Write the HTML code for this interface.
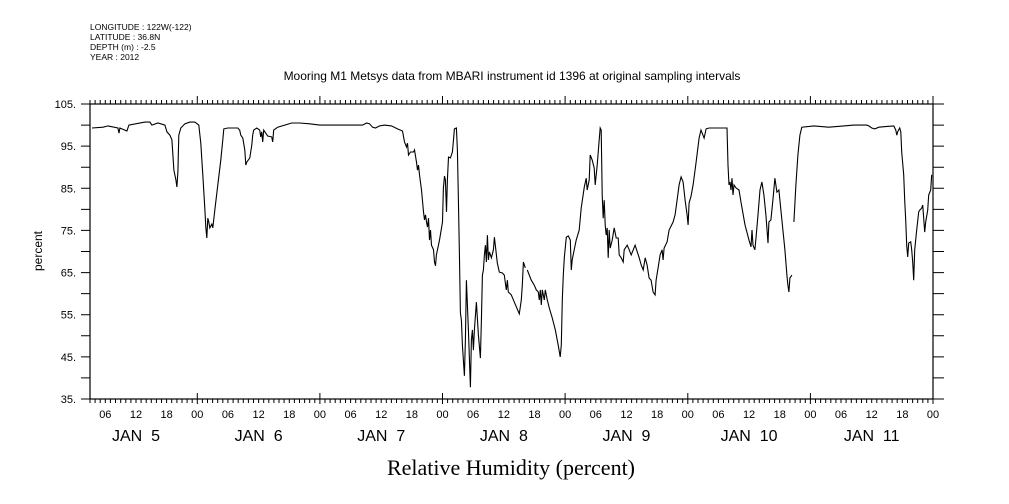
<!DOCTYPE html>
<html><head><meta charset="utf-8"><style>
body{margin:0;background:#fff;}
svg{display:block;font-family:"Liberation Sans",sans-serif;}
</style></head><body>
<svg id="chart" width="1009" height="504" viewBox="0 0 1009 504">
<g font-size="8.5" fill="#000">
<text x="90" y="30">LONGITUDE : 122W(-122)</text>
<text x="90" y="40">LATITUDE : 36.8N</text>
<text x="90" y="50">DEPTH (m) : -2.5</text>
<text x="90" y="60">YEAR : 2012</text>
</g>
<text x="512" y="80" font-size="12" text-anchor="middle">Mooring M1 Metsys data from MBARI instrument id 1396 at original sampling intervals</text>
<text x="511" y="475" font-size="22" text-anchor="middle" font-family="Liberation Serif, serif">Relative Humidity (percent)</text>
<text transform="translate(42,251) rotate(-90)" font-size="12" text-anchor="middle">percent</text>
<g id="axes"></g>
<g id="series"></g>
</svg>
<script>
const yTicks=[105,95,85,75,65,55,45,35];
const dayLabels=["JAN  5","JAN  6","JAN  7","JAN  8","JAN  9","JAN  10","JAN  11"];
const hourLabels=["06","12","18","00"];
// times: hours since axis day-0 00:00; null value = gap
const times=[3.39,5.54,6.52,8.47,8.67,8.86,10.23,10.62,13.75,14.73,15.12,16.29,17.66,18.05,18.63,19.03,19.42,19.81,20.0,20.2,20.39,20.78,21.57,22.54,23.52,24.3,24.69,25.08,25.47,25.67,25.86,26.06,26.26,26.45,26.84,27.04,27.43,28.01,28.6,28.99,29.19,29.97,31.92,32.31,32.51,32.9,33.29,33.49,33.68,34.27,34.66,34.85,35.05,35.64,36.22,36.42,36.61,36.81,37.0,37.79,38.57,38.76,38.96,39.74,41.11,42.48,44.04,45.99,47.95,49.9,52.83,56.35,57.13,57.72,58.3,58.89,59.67,60.65,62.02,63.19,64.17,64.56,64.95,65.14,65.34,65.73,66.32,66.51,66.9,67.1,67.29,67.49,67.88,68.27,68.47,68.66,68.86,69.05,69.25,69.45,69.64,69.84,70.23,70.42,70.62,70.81,71.4,71.99,72.18,72.38,72.57,72.77,72.96,73.16,73.55,73.94,74.14,74.33,74.72,74.92,75.11,75.31,75.5,75.7,75.89,76.28,76.48,76.67,76.87,77.06,77.45,77.65,77.85,78.04,78.24,78.63,79.02,79.41,79.61,79.8,80.0,80.19,80.39,80.58,80.78,80.97,81.17,81.56,81.95,82.15,82.73,83.12,83.71,84.1,84.49,84.69,84.88,85.47,86.45,87.03,87.42,87.62,87.82,88.21,88.4,88.6,89.38,89.96,90.35,90.74,90.94,91.13,91.33,91.53,91.92,92.11,92.5,92.89,93.48,94.07,94.65,95.04,95.24,95.44,95.63,95.83,96.22,96.61,97.0,97.2,97.39,97.78,98.17,98.76,99.15,99.74,100.13,100.32,100.71,100.91,101.3,101.69,101.89,102.28,102.67,102.86,103.06,103.25,103.45,103.65,103.84,104.04,104.23,104.43,104.62,104.82,105.21,105.6,105.99,106.38,106.58,106.97,107.36,107.56,108.14,108.53,108.92,109.7,110.49,110.88,111.27,111.66,112.05,112.44,112.83,113.22,113.61,113.81,114.2,114.59,114.98,115.18,115.37,115.96,116.35,117.13,117.52,117.91,118.3,118.69,119.08,119.48,119.87,120.06,120.26,120.65,121.04,121.63,122.21,122.6,123.19,123.58,124.17,126.12,127.68,127.88,128.07,128.27,128.46,128.66,128.86,129.05,129.44,130.03,130.42,131.2,131.98,132.37,132.57,132.76,133.15,133.35,133.74,134.13,134.52,134.91,135.3,135.7,135.89,136.28,136.67,137.06,137.45,137.84,138.23,138.62,139.01,139.4,139.6,139.8,139.99,140.38,140.58,140.77,141.16,141.55,141.94,142.33,144.68,147.61,150.55,152.5,155.04,155.43,156.02,156.61,157.39,160.32,160.71,160.91,161.1,161.49,161.69,161.88,162.27,162.47,162.66,162.86,163.05,163.25,163.64,163.84,164.03,164.23,164.42,164.81,165.2,165.4,165.79,165.98,166.18,166.38,166.57,166.96,167.16,167.55,167.74];
const humidity=[99.3,99.5,99.8,99.3,98.1,99.3,98.6,100.0,100.7,100.7,100.0,100.5,100.0,98.4,97.6,96.5,89.3,87.0,85.3,88.9,97.6,99.3,100.3,100.7,100.7,100.0,95.7,88.2,80.3,75.8,73.2,77.9,77.0,75.6,76.5,75.6,79.8,85.8,91.7,96.5,99.1,99.3,99.3,98.8,97.6,96.9,94.1,90.5,91.2,92.2,95.3,97.6,98.8,99.3,98.8,97.2,98.4,96.0,98.8,97.4,97.2,96.0,98.8,99.5,100.0,100.5,100.5,100.3,100.0,100.0,100.0,100.0,100.5,100.3,99.5,99.3,99.8,100.0,99.8,99.1,98.6,96.0,94.8,95.7,92.9,93.6,93.6,94.1,91.2,89.3,90.5,88.2,84.6,79.4,77.5,78.7,77.0,75.8,77.9,72.7,75.1,71.5,70.4,67.5,66.6,69.2,72.7,77.0,85.1,87.9,87.0,79.4,87.0,92.4,92.2,93.6,96.5,99.1,99.3,94.1,82.2,69.6,55.4,53.7,47.8,40.5,49.0,63.2,57.3,51.4,37.8,49.0,51.4,46.6,51.4,58.0,50.2,44.7,53.7,64.4,65.6,69.2,71.5,67.5,73.9,68.0,69.9,68.5,70.4,73.4,67.3,65.1,64.9,64.4,60.9,63.2,60.4,59.7,56.8,55.2,58.5,62.0,67.5,66.1,null,65.6,63.2,62.0,60.9,60.4,58.5,60.9,57.3,60.9,58.5,60.9,58.5,56.6,54.2,51.4,47.8,45.0,47.8,58.5,64.4,68.5,73.4,73.7,72.7,65.6,68.0,70.4,72.7,75.1,80.3,85.3,87.4,84.6,87.0,92.9,91.7,89.8,85.8,90.5,96.5,99.3,98.8,83.4,77.9,82.2,76.3,73.9,75.6,68.5,75.1,70.8,72.7,75.6,73.2,73.2,69.2,68.5,67.5,70.4,71.5,70.4,69.2,71.5,68.5,66.8,65.6,68.5,66.8,63.7,63.2,60.4,59.7,63.2,66.1,69.2,70.4,68.0,70.8,72.3,75.1,77.0,78.7,82.2,85.8,87.7,86.5,82.2,78.7,76.3,81.5,83.2,85.8,91.2,96.9,98.8,96.9,99.1,99.3,99.3,99.3,90.5,85.8,86.5,84.6,87.4,83.4,85.8,85.1,84.6,81.7,76.3,72.7,71.1,75.1,71.5,70.4,73.2,78.7,84.6,86.5,83.4,78.7,72.0,77.0,77.5,82.2,87.4,84.1,84.6,79.8,75.1,70.4,64.4,62.0,60.4,63.7,64.4,null,77.0,85.8,92.9,97.6,99.5,99.8,99.5,99.8,100.0,100.0,99.8,99.3,99.1,99.5,99.8,98.8,97.6,98.4,99.3,98.4,93.6,88.2,82.2,77.5,71.5,68.7,72.0,72.3,70.4,67.5,63.2,70.4,75.1,79.4,79.8,80.3,81.0,77.9,74.6,77.0,79.8,83.4,84.6,88.2];
const NS='http://www.w3.org/2000/svg';
const L=90,R=933,T=104,B=399;
const tMin=3,tMax=168;
function xs(t){return L+(t-tMin)/(tMax-tMin)*(R-L);}
function ys(v){return T+(105-v)/(105-35)*(B-T);}
function mk(tag,attrs,parent){const e=document.createElementNS(NS,tag);for(const k in attrs)e.setAttribute(k,attrs[k]);parent.appendChild(e);return e;}
const ax=document.getElementById('axes');
const frame=mk('rect',{x:L,y:T,width:R-L,height:B-T,fill:'none',stroke:'#000','stroke-width':1.2},ax);


let tp='';
for(let h=tMin;h<=tMax;h++){const x=xs(h).toFixed(1);const maj=h%24===0;
 tp+=`M${x} ${T}v${maj?-8:-4}M${x} ${B}v${maj?5:4}`; if(maj) tp+=`M${x} ${B}v-6`;}
for(let v=35;v<=105;v+=5){const y=ys(v).toFixed(1);tp+=`M${L} ${y}h-9M${R} ${y}h11`;}
const ticks=mk('path',{d:tp,stroke:'#000','stroke-width':1,fill:'none'},ax);


yTicks.forEach(v=>{const t=mk('text',{x:76,y:ys(v)+4,'font-size':11,'text-anchor':'end'},ax);t.textContent=v+'.';
 
 });
for(let h=6;h<=tMax;h+=6){const t=mk('text',{x:xs(h),y:418,'font-size':11,'text-anchor':'middle'},ax);t.textContent=hourLabels[(h/6-1)%4];
 
 }
dayLabels.forEach((d,i)=>{const t=mk('text',{x:xs(24*i+12),y:441,'font-size':16,'text-anchor':'middle'},ax);t.textContent=d;t.style.whiteSpace='pre';
 
 });
let d='',pen=false;
for(let i=0;i<times.length;i++){if(humidity[i]===null){pen=false;continue;}
 d+=(pen?'L':'M')+xs(times[i]).toFixed(1)+' '+ys(humidity[i]).toFixed(1);pen=true;}
const line=mk('path',{d:d,fill:'none',stroke:'#000','stroke-width':1.1},document.getElementById('series'));


</script>
</body></html>
